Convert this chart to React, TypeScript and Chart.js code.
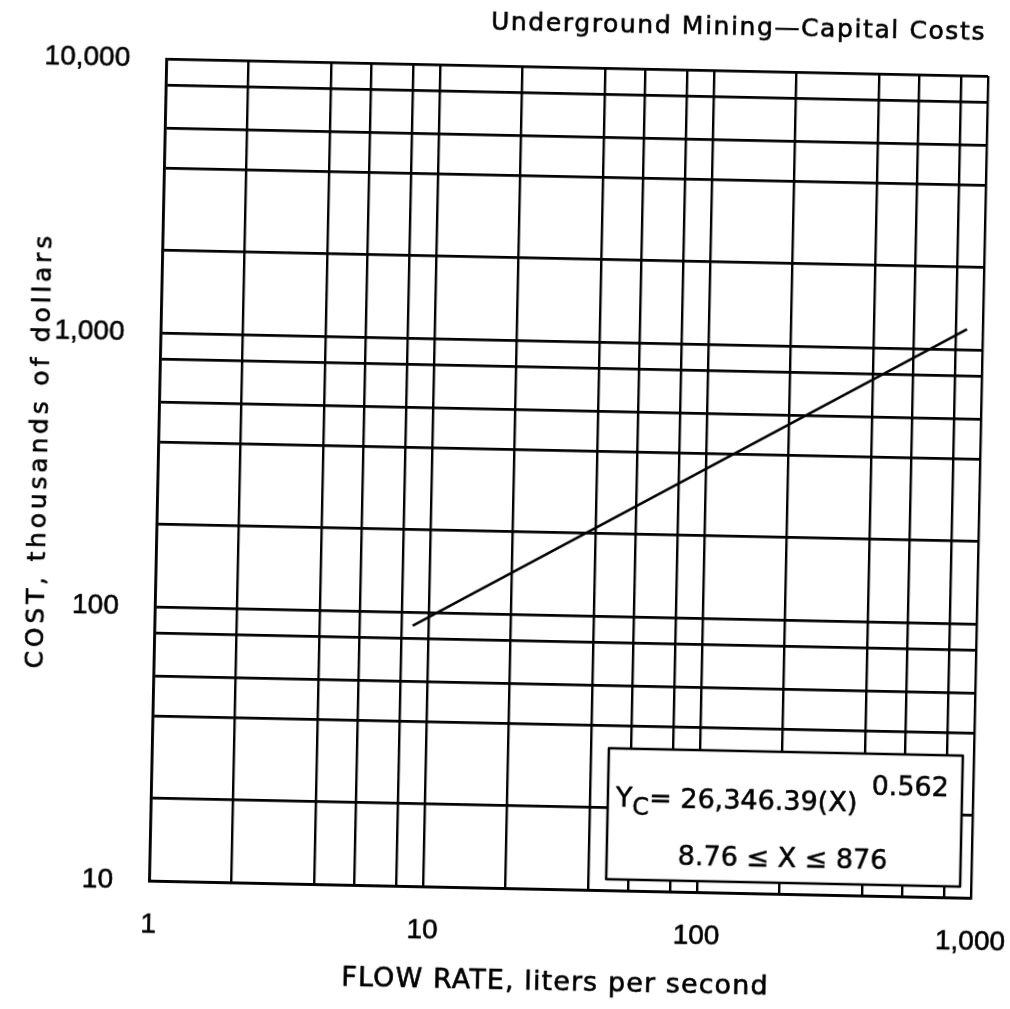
import React, { useEffect, useRef } from 'react';
import { Chart, registerables } from 'chart.js';

Chart.register(...registerables);

// ---- text ----
const chartTitle = 'Underground Mining\u2014Capital Costs';
const xAxisTitle = 'FLOW RATE, liters per second';
const yAxisTitle = 'COST, thousands of dollars';

// ---- data (cost curve, thousands of dollars vs flow rate, L/s) ----
const flowRate = [8.76, 876];
const costK = [89.2, 1187];

// ---- grid / tick values ----
const xGridTicks = [1, 2, 4, 5.6, 8, 10, 20, 40, 56, 80, 100, 200, 400, 560, 800, 1000];
const yGridTicks = [10, 20, 40, 56, 80, 100, 200, 400, 560, 800, 1000, 2000, 4000, 5600, 8000, 10000];
const xLabeled = [1, 10, 100, 1000];
const yLabeled = [10, 100, 1000, 10000];

// ---- equation box ----
const eqSymbol = 'Y';
const eqSub = 'C';
const eqMain = '= 26,346.39(X)';
const eqExp = '0.562';
const eqRange = '8.76 \u2264 X \u2264 876';

const fmt = (v: number, labeled: number[]) =>
  labeled.includes(v) ? v.toLocaleString('en-US') : '';

// canvas is a bit larger than the page so nothing is clipped after the slight rotation
const EXTRA = 20;
const CW = 1010 + 2 * EXTRA;
const CH = 1009 + 2 * EXTRA;

const drawText = (ctx: any, s: string, x: number, y: number) => {
  ctx.strokeText(s, x, y);
  ctx.fillText(s, x, y);
};

const textPlugin = {
  id: 'refTexts',
  afterDraw(chart: any) {
    const { ctx, chartArea: a } = chart;
    ctx.save();
    ctx.fillStyle = '#000';
    ctx.strokeStyle = '#000';
    ctx.lineWidth = 0.6;
    ctx.lineJoin = 'round';

    // chart title (top right)
    ctx.font = '25px "DejaVu Sans"';
    ctx.letterSpacing = '1.6px';
    ctx.textAlign = 'right';
    ctx.textBaseline = 'middle';
    drawText(ctx, chartTitle, a.right - 3, a.top - 43);

    // x axis title
    ctx.font = '27px "DejaVu Sans"';
    ctx.letterSpacing = '1.1px';
    ctx.textAlign = 'center';
    drawText(ctx, xAxisTitle, (a.left + a.right) / 2 - 3, a.bottom + 94);

    // y axis title
    ctx.save();
    ctx.font = '25px "DejaVu Sans"';
    ctx.letterSpacing = '3.8px';
    ctx.translate(a.left - 118, (a.top + a.bottom) / 2 - 17);
    ctx.rotate(-Math.PI / 2);
    ctx.textAlign = 'center';
    drawText(ctx, yAxisTitle, 0, 0);
    ctx.restore();

    ctx.letterSpacing = '0px';

    // equation box
    const bw = 354;
    const bh = 131;
    const bx = a.right - 11 - bw;
    const by = a.bottom - 11 - bh;
    ctx.fillStyle = '#fff';
    ctx.fillRect(bx, by, bw, bh);
    ctx.lineWidth = 2.5;
    ctx.strokeRect(bx, by, bw, bh);

    ctx.fillStyle = '#000';
    ctx.lineWidth = 0.5;
    ctx.textAlign = 'left';
    ctx.textBaseline = 'alphabetic';
    let x = bx + 8;
    const y1 = by + 58;
    ctx.font = '27px "DejaVu Sans"';
    drawText(ctx, eqSymbol, x, y1);
    x += ctx.measureText(eqSymbol).width;
    ctx.font = '24px "DejaVu Sans"';
    drawText(ctx, eqSub, x, y1 + 8);
    x += ctx.measureText(eqSub).width;
    ctx.font = '27px "DejaVu Sans"';
    drawText(ctx, eqMain, x, y1);
    x += ctx.measureText(eqMain).width + 14;
    ctx.font = '27px "DejaVu Sans"';
    drawText(ctx, eqExp, x, y1 - 17);

    ctx.font = '27px "DejaVu Sans"';
    drawText(ctx, eqRange, bx + 71, by + 115);

    ctx.restore();
  },
};

export default function App() {
  const canvasRef = useRef<HTMLCanvasElement | null>(null);

  useEffect(() => {
    const canvas = canvasRef.current;
    if (!canvas) return;
    const chart = new Chart(canvas, {
      type: 'line',
      data: {
        datasets: [
          {
            data: flowRate.map((x, i) => ({ x, y: costK[i] })),
            borderColor: '#000',
            borderWidth: 2.5,
            pointRadius: 0,
            fill: false,
            tension: 0,
          },
        ],
      },
      options: {
        animation: false,
        responsive: false,
        devicePixelRatio: 1,
        layout: { padding: { top: 66 + EXTRA, right: 31 + EXTRA, bottom: 0, left: 0 } },
        plugins: {
          legend: { display: false },
          title: { display: false },
          tooltip: { enabled: false },
        },
        scales: {
          x: {
            type: 'logarithmic',
            min: 1,
            max: 1000,
            afterBuildTicks: (s: any) => {
              s.ticks = xGridTicks.map((value) => ({ value }));
            },
            afterFit: (s: any) => {
              s.height = 121 + EXTRA;
              s.paddingLeft = 0;
              s.paddingRight = 0;
            },
            ticks: {
              autoSkip: false,
              maxRotation: 0,
              padding: 27,
              color: '#000',
              textStrokeColor: '#000',
              textStrokeWidth: 0.6,
              font: { family: '"Liberation Sans"', size: 28 },
              callback: (v: any) => fmt(Number(v), xLabeled),
            },
            grid: { color: '#000', lineWidth: 2.4, drawTicks: false },
            border: { color: '#000', width: 2.8 },
          },
          y: {
            type: 'logarithmic',
            min: 10,
            max: 10000,
            afterBuildTicks: (s: any) => {
              s.ticks = yGridTicks.map((value) => ({ value }));
            },
            afterFit: (s: any) => {
              s.width = 157 + EXTRA;
              s.paddingTop = 0;
              s.paddingBottom = 0;
            },
            ticks: {
              autoSkip: false,
              padding: 36,
              color: '#000',
              textStrokeColor: '#000',
              textStrokeWidth: 0.6,
              font: { family: '"Liberation Sans"', size: 28 },
              callback: (v: any) => fmt(Number(v), yLabeled),
            },
            grid: { color: '#000', lineWidth: 2.8, drawTicks: false },
            border: { color: '#000', width: 2.8 },
          },
        },
      } as any,
      plugins: [textPlugin],
    });
    return () => chart.destroy();
  }, []);

  return (
    <div
      style={{
        position: 'fixed',
        left: 0,
        top: 0,
        width: 1010,
        height: 1009,
        overflow: 'hidden',
        background: '#fff',
      }}
    >
      <canvas
        ref={canvasRef}
        width={CW}
        height={CH}
        style={{
          position: 'absolute',
          left: -EXTRA,
          top: -EXTRA,
          display: 'block',
          width: CW,
          height: CH,
          transform: 'rotate(1.2deg)',
          transformOrigin: `${505 + EXTRA}px ${504.5 + EXTRA}px`,
        }}
      />
    </div>
  );
}
